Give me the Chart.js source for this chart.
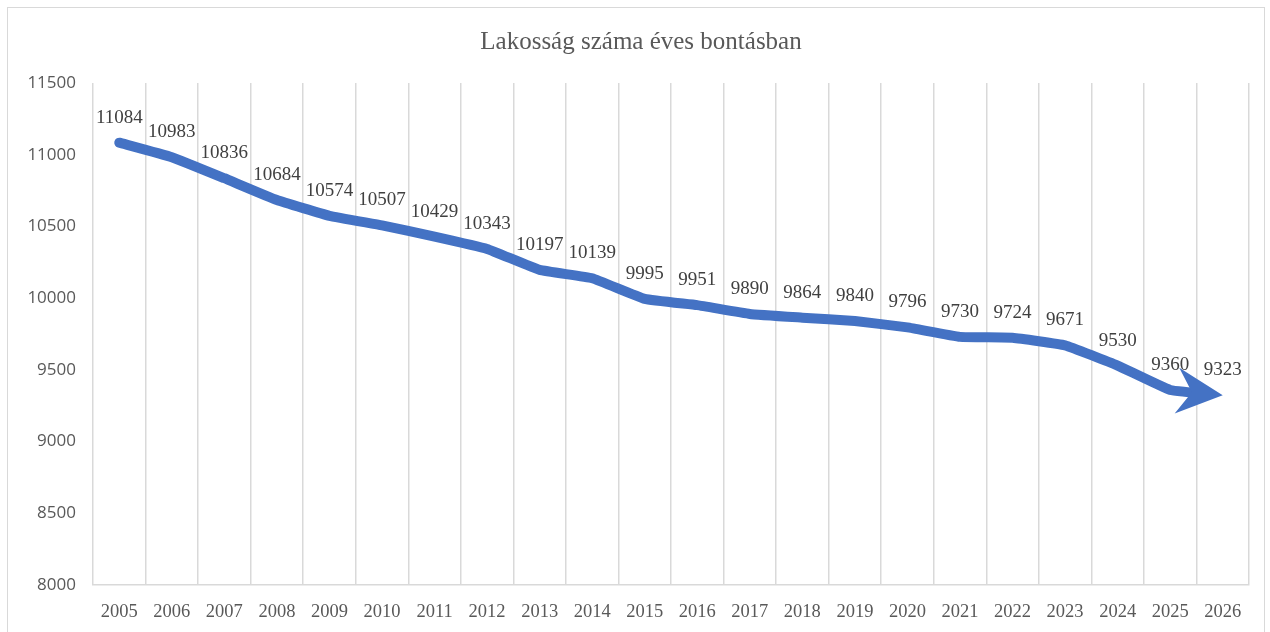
<!DOCTYPE html>
<html>
<head>
<meta charset="utf-8">
<script src="https://cdn.jsdelivr.net/npm/chart.js@4"></script>
<style>
  html, body { margin: 0; padding: 0; background: #fff; }
  #wrap { position: relative; width: 1270px; height: 632px; }
  #frame { position: absolute; left: 7px; top: 7px; width: 1256px; height: 640px; border: 1px solid #d9d9d9; pointer-events: none; }
</style>
</head>
<body>
<div id="wrap">
  <canvas id="chartLakossag" width="1270" height="632"></canvas>
  <div id="frame"></div>
</div>
<script>
const evek = ['2005','2006','2007','2008','2009','2010','2011','2012','2013','2014','2015',
  '2016','2017','2018','2019','2020','2021','2022','2023','2024','2025','2026'];
const lakossag = [11084, 10983, 10836, 10684, 10574, 10507, 10429, 10343, 10197, 10139, 9995,
  9951, 9890, 9864, 9840, 9796, 9730, 9724, 9671, 9530, 9360, 9323];
const yMin = 8000;
const yMax = 11500;
const yStep = 500;

const kek = '#4472C4';

function nyilGeom(chart) {
  const pts = chart.getDatasetMeta(0).data;
  const a = pts[pts.length - 2], b = pts[pts.length - 1];
  const dx = b.x - a.x, dy = b.y - a.y;
  const len = Math.hypot(dx, dy);
  return { tip: b, ux: dx / len, uy: dy / len };
}

// nyil a vonal vegen
const nyilPlugin = {
  id: 'nyil',
  beforeDatasetDraw(chart) {
    const { tip, ux, uy } = nyilGeom(chart);
    const px = -uy, py = ux;
    const ctx = chart.ctx;
    ctx.save();
    ctx.beginPath();
    ctx.rect(0, 0, chart.width, chart.height);
    const back = 20, fwd = 12, w = 20;
    ctx.moveTo(tip.x - ux * back + px * w, tip.y - uy * back + py * w);
    ctx.lineTo(tip.x + ux * fwd + px * w, tip.y + uy * fwd + py * w);
    ctx.lineTo(tip.x + ux * fwd - px * w, tip.y + uy * fwd - py * w);
    ctx.lineTo(tip.x - ux * back - px * w, tip.y - uy * back - py * w);
    ctx.closePath();
    ctx.clip('evenodd');
  },
  afterDatasetDraw(chart) {
    const ctx = chart.ctx;
    ctx.restore();
    const { tip, ux, uy } = nyilGeom(chart);
    const px = -uy, py = ux;
    const L = 46, W = 23, notch = 31;
    ctx.save();
    ctx.fillStyle = kek;
    ctx.beginPath();
    ctx.moveTo(tip.x, tip.y);
    ctx.lineTo(tip.x - ux * L + px * W, tip.y - uy * L + py * W);
    ctx.lineTo(tip.x - ux * notch, tip.y - uy * notch);
    ctx.lineTo(tip.x - ux * L - px * W, tip.y - uy * L - py * W);
    ctx.closePath();
    ctx.fill();
    ctx.restore();
  }
};

// adatcimkek a pontok folott
const cimkePlugin = {
  id: 'cimkek',
  afterDatasetsDraw(chart) {
    const ctx = chart.ctx;
    const pts = chart.getDatasetMeta(0).data;
    ctx.save();
    ctx.font = '19px "Liberation Serif", "Times New Roman", serif';
    ctx.fillStyle = '#404040';
    ctx.textAlign = 'center';
    ctx.textBaseline = 'middle';
    pts.forEach((p, i) => {
      ctx.fillText(String(lakossag[i]), p.x, p.y - 25);
    });
    ctx.restore();
  }
};

const ctx = document.getElementById('chartLakossag');

let chartLakossag = new Chart(ctx, {
  type: 'line',
  data: {
    labels: evek,
    datasets: [{
      label: 'Lakosság',
      data: lakossag,
      borderColor: kek,
      borderWidth: 10,
      borderCapStyle: 'round',
      borderJoinStyle: 'round',
      pointRadius: 0,
      fill: false,
      tension: 0.1
    }]
  },
  options: {
    responsive: false,
    animation: false,
    layout: { padding: { left: 12, right: 0, top: 0, bottom: 0 } },
    plugins: {
      legend: { display: false },
      tooltip: { enabled: false },
      title: {
        display: true,
        text: 'Lakosság száma éves bontásban',
        color: '#595959',
        font: { family: '"Liberation Serif", "Times New Roman", serif', size: 25, weight: 'normal' },
        padding: { top: 27, bottom: 26 }
      }
    },
    scales: {
      x: {
        offset: true,
        grid: { offset: true, color: '#d9d9d9', lineWidth: 1.5, drawTicks: false },
        border: { display: true, color: '#d9d9d9', width: 1.5 },
        ticks: {
          color: '#595959',
          padding: 16,
          maxRotation: 0,
          autoSkip: false,
          font: { family: '"Liberation Serif", "Times New Roman", serif', size: 18.5 }
        },
        afterFit(scale) { scale.height = 47; }
      },
      y: {
        min: yMin,
        max: yMax,
        grid: { display: false, drawTicks: false },
        border: { display: false },
        ticks: {
          stepSize: yStep,
          color: '#595959',
          padding: 17,
          font: { family: '"Open Sans", sans-serif', size: 17 },
          callback: (v) => String(v)
        },
        afterFit(scale) { scale.width = 81; }
      },
      jobb: {
        position: 'right',
        grid: { display: false, drawTicks: false },
        border: { display: false },
        ticks: { display: false },
        afterFit(scale) { scale.width = 21; }
      }
    }
  },
  plugins: [nyilPlugin, cimkePlugin]
});
</script>
</body>
</html>
